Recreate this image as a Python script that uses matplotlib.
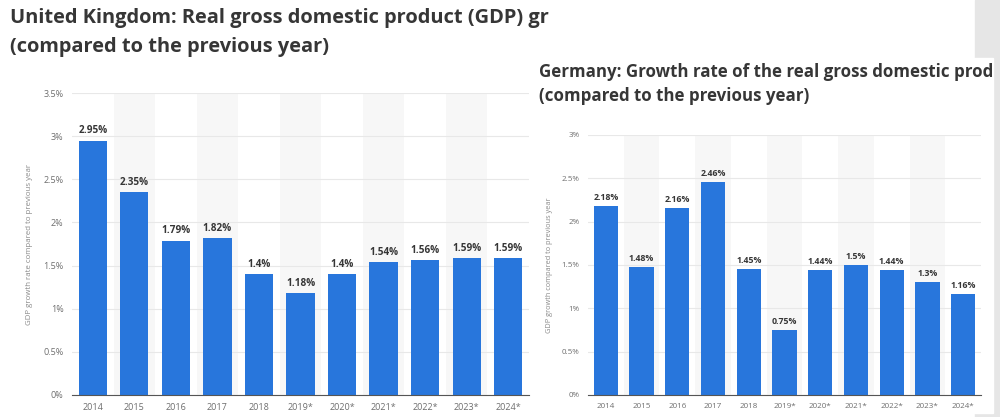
import matplotlib
matplotlib.use("Agg")
import matplotlib.pyplot as plt
from matplotlib.patches import Rectangle
import numpy as np

years = ["2014", "2015", "2016", "2017", "2018", "2019*", "2020*",
         "2021*", "2022*", "2023*", "2024*"]
uk_growth = [2.95, 2.35, 1.79, 1.82, 1.4, 1.18, 1.4, 1.54, 1.56, 1.59, 1.59]
de_growth = [2.18, 1.48, 2.16, 2.46, 1.45, 0.75, 1.44, 1.5, 1.44, 1.3, 1.16]
uk_labels = ["2.95%", "2.35%", "1.79%", "1.82%", "1.4%", "1.18%", "1.4%",
             "1.54%", "1.56%", "1.59%", "1.59%"]
de_labels = ["2.18%", "1.48%", "2.16%", "2.46%", "1.45%", "0.75%", "1.44%",
             "1.5%", "1.44%", "1.3%", "1.16%"]
uk_ticks = [0, 0.5, 1, 1.5, 2, 2.5, 3, 3.5]
de_ticks = [0, 0.5, 1, 1.5, 2, 2.5, 3]

plt.rcParams['font.family'] = ['Open Sans', 'DejaVu Sans']
BLUE = '#2876dc'
DARK = '#363636'
GREY = '#6e6e6e'


def fmt(v):
    return ('%g' % v) + '%'


def draw(ax, vals, labels, ticks, ylab, fs_val, fs_tick, fs_ylab):
    x = np.arange(len(years))
    # alternating column shading
    for i in x:
        if i % 2 == 1:
            ax.axvspan(i - 0.5, i + 0.5, color='#f7f7f7', zorder=0, lw=0)
    ax.bar(x, vals, width=0.68, color=BLUE, zorder=3)
    for xi, v, lab in zip(x, vals, labels):
        ax.annotate(lab, (xi, v), xytext=(0, 3), textcoords='offset points',
                    ha='center', va='bottom', fontsize=fs_val,
                    fontweight='bold', color=DARK, zorder=4)
    ax.set_xlim(-0.5, len(years) - 0.5)
    ax.set_ylim(0, ticks[-1])
    ax.set_yticks(ticks)
    ax.set_yticklabels([fmt(t) for t in ticks], fontsize=fs_tick, color=GREY)
    ax.set_xticks(x)
    ax.set_xticklabels(years, fontsize=fs_tick, color=GREY)
    ax.tick_params(length=0, pad=6)
    ax.grid(axis='y', color='#e8e8e8', lw=0.8, zorder=1)
    for s in ['top', 'right', 'left']:
        ax.spines[s].set_visible(False)
    ax.spines['bottom'].set_color('#555555')
    ax.spines['bottom'].set_zorder(5)
    ax.set_ylabel(ylab, fontsize=fs_ylab, color='#8a8a8a')
    ax.set_facecolor('none')


fig = plt.figure(figsize=(10, 4.17), dpi=100)

# grey strip on the right and the white panel of the second screenshot
fig.patches.append(Rectangle((0.975, 0), 0.025, 1, transform=fig.transFigure,
                             color='#e6e6e6', zorder=-2))
fig.patches.append(Rectangle((0.531, 1 - 413 / 417), 0.993 - 0.531, (413 - 58) / 417,
                             transform=fig.transFigure, color='white', zorder=-1))

ax1 = fig.add_axes([0.072, 0.0528, 0.457, 0.724])
draw(ax1, uk_growth, uk_labels, uk_ticks,
     'GDP growth rate compared to previous year', 7.2, 6.5, 5.7)
ax1.yaxis.set_label_coords(-0.085, 0.5)

ax2 = fig.add_axes([0.588, 0.0528, 0.393, 0.6235])
draw(ax2, de_growth, de_labels, de_ticks,
     'GDP growth compared to previous year', 6.3, 5.8, 5.3)
ax2.yaxis.set_label_coords(-0.089, 0.5)

fig.text(0.01, 0.957, 'United Kingdom: Real gross domestic product (GDP) gr',
         fontsize=14.4, fontweight='bold', color=DARK, va='center', ha='left')
fig.text(0.01, 0.887, '(compared to the previous year)',
         fontsize=14.4, fontweight='bold', color=DARK, va='center', ha='left')
fig.text(0.539, 0.827, 'Germany: Growth rate of the real gross domestic prod',
         fontsize=12.2, fontweight='bold', color=DARK, va='center', ha='left')
fig.text(0.539, 0.770, '(compared to the previous year)',
         fontsize=12.2, fontweight='bold', color=DARK, va='center', ha='left')

fig.savefig('out.png', dpi=100, facecolor='white')
